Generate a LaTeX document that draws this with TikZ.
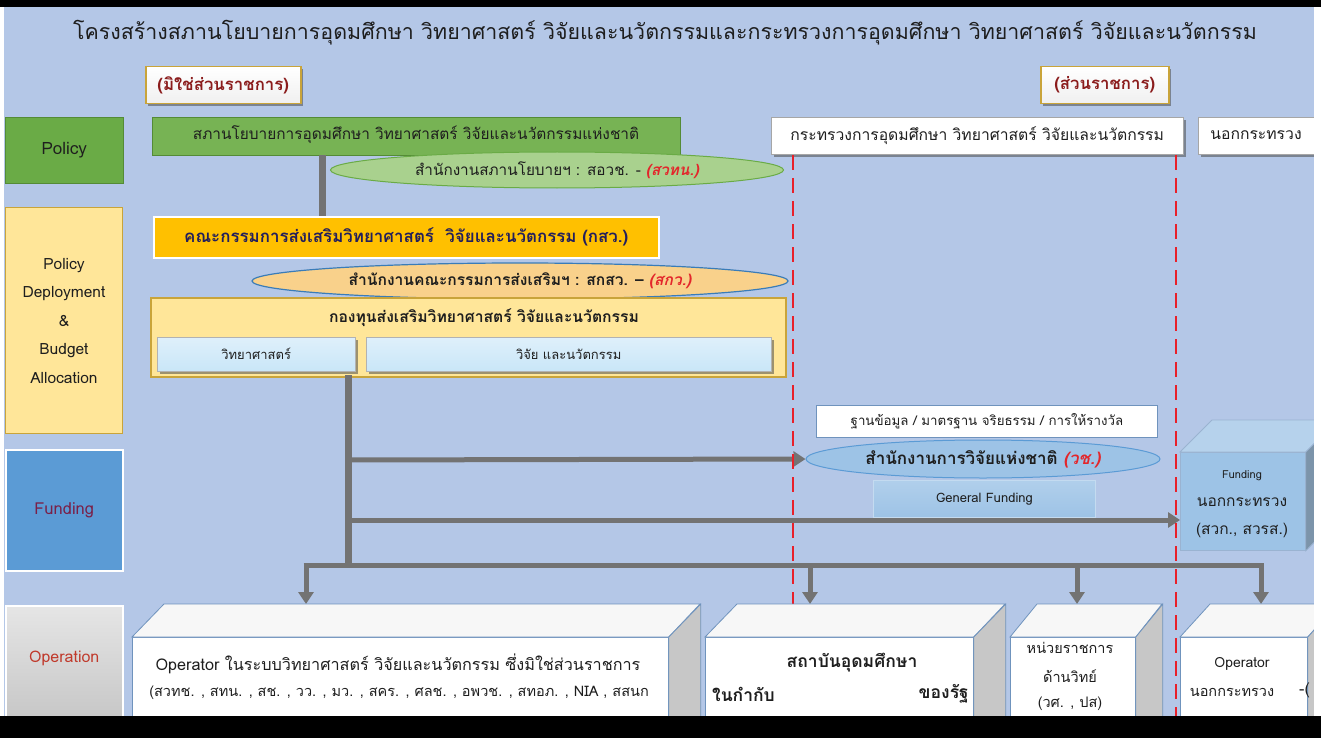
\documentclass[tikz,border=0pt]{standalone}
\usepackage{fontspec}
\setmainfont{Loma}[Script=Thai]
\usetikzlibrary{shapes.geometric,arrows.meta,shadows}
\definecolor{bg}{HTML}{B4C7E7}
\definecolor{txt}{HTML}{1E1E1E}
\definecolor{navy}{HTML}{231F5C}
\definecolor{redit}{HTML}{E3262B}
\definecolor{dred}{HTML}{8B1C1C}
\definecolor{pgreen}{HTML}{6AAB46}
\definecolor{pgreenb}{HTML}{548B36}
\definecolor{egreen}{HTML}{A9D18E}
\definecolor{orng}{HTML}{FFC000}
\definecolor{eorng}{HTML}{F9D18B}
\definecolor{eorngb}{HTML}{3A7CB8}
\definecolor{yel}{HTML}{FFE699}
\definecolor{yelb}{HTML}{C9A43A}
\definecolor{lblue}{HTML}{C9E6F8}
\definecolor{fblue}{HTML}{5B9BD5}
\definecolor{fundtxt}{HTML}{7A2048}
\definecolor{optxt}{HTML}{C0392B}
\definecolor{agrey}{HTML}{737373}
\definecolor{ewch}{HTML}{9DC3E6}
\definecolor{ewchb}{HTML}{5B9BD5}
\definecolor{edgeb}{HTML}{6F93BD}
\definecolor{dashred}{HTML}{E8202A}
\newcommand{\fsz}[2]{\fontsize{#1}{#2}\selectfont}
\begin{document}
\begin{tikzpicture}[x=1pt,y=-1pt,
  box/.style={draw, inner sep=0pt, anchor=north west, align=center, text=txt},
  lbl/.style={inner sep=0pt, align=center, text=txt},
  shd/.style={drop shadow={shadow xshift=2.5pt, shadow yshift=-2.5pt, opacity=0.55, fill=black!70}},
  trunk/.style={draw=agrey, line width=7pt},
  bus/.style={draw=agrey, line width=5pt},
  arr/.style={draw=agrey, line width=5pt, -{Triangle[length=12pt,width=15pt]}},
  rdash/.style={draw=dashred, line width=2.6pt, dash pattern=on 15pt off 8pt},
  face/.style={draw=edgeb, line width=0.8pt}
]
\useasboundingbox (0,0) rectangle (1321,738);
\fill[bg] (0,0) rectangle (1321,738);

% title
\node[lbl, font=\fsz{21.4}{25}] (title) at (665,33) {โครงสร้างสภานโยบายการอุดมศึกษา วิทยาศาสตร์ วิจัยและนวัตกรรมและกระทรวงการอุดมศึกษา วิทยาศาสตร์ วิจัยและนวัตกรรม};

% status tags
\node[box, shd, draw=yelb, line width=1.5pt, top color=white, bottom color=black!6, minimum width=155pt, minimum height=37pt, font=\fsz{16.8}{19}\bfseries, text=dred] (tagA) at (145,66) {(มิใช่ส่วนราชการ)};
\node[box, shd, draw=yelb, line width=1.5pt, top color=white, bottom color=black!6, minimum width=128pt, minimum height=37pt, font=\fsz{16.8}{19}\bfseries, text=dred] (tagB) at (1040,66) {(ส่วนราชการ)};

% left column
\node[box, fill=pgreen, draw=pgreenb, minimum width=118pt, minimum height=66pt, font=\fsz{17}{20}] (lpol) at (5,117) {Policy};
\node[box, fill=yel, draw=yelb, line width=1pt, minimum width=117pt, minimum height=226pt, font=\fsz{15.5}{28.5}] (lpd) at (5,207) {Policy\\Deployment\\\&\\Budget\\Allocation};
\node[box, fill=fblue, draw=white, line width=1.5pt, minimum width=117pt, minimum height=121pt, font=\fsz{16.5}{19}, text=fundtxt] (lfund) at (5,449) {Funding};
\node[box, top color=black!10, bottom color=black!22, draw=white, line width=1.5pt, minimum width=117pt, minimum height=113pt] (lop) at (5,605) {};
\node[lbl, font=\fsz{16}{19}, text=optxt] (loptxt) at (lop.center |- 0,658) {Operation};

% red dashed dividers
\coordinate (d1a) at (793,155); \coordinate (d1b) at (793,716);
\coordinate (d2a) at (1176,155); \coordinate (d2b) at (1176,716);

% policy level
\node[box, fill=egreen!20!pgreen, draw=pgreenb, minimum width=528pt, minimum height=38pt] (spn) at (152,117) {};
\node[lbl, font=\fsz{15.4}{18}] (spntxt) at (416,135) {สภานโยบายการอุดมศึกษา วิทยาศาสตร์ วิจัยและนวัตกรรมแห่งชาติ};
\node[box, shd, fill=white, draw=black!35, minimum width=412pt, minimum height=37pt, font=\fsz{15.7}{18}] (mhesi) at (771,117) {กระทรวงการอุดมศึกษา วิทยาศาสตร์ วิจัยและนวัตกรรม};
\node[box, shd, fill=white, draw=black!35, minimum width=130pt, minimum height=37pt] (outm) at (1198,117) {};
\node[lbl, font=\fsz{15.7}{18}] (outmtxt) at (1256,135) {นอกกระทรวง};

% connector policy -> board
\coordinate (c1) at (322,0);
\node[box, fill=orng, draw=white, line width=1.5pt, minimum width=505pt, minimum height=41pt, font=\fsz{16.9}{20}\bfseries, text=navy] (ksw) at (153,216) {คณะกรรมการส่งเสริมวิทยาศาสตร์\ \ วิจัยและนวัตกรรม (กสว.)};
\draw[trunk] (spn.south -| c1) -- (ksw.north -| c1);

\node[ellipse, draw=pgreen, line width=1pt, fill=egreen, inner sep=0pt, minimum width=453pt, minimum height=36pt, text=txt, font=\fsz{15.3}{18}] (e1) at (557,170) {สำนักงานสภานโยบายฯ : สอวช. - {\color{redit}\bfseries\itshape (สวทน.)}};

\node[ellipse, draw=eorngb, line width=1.2pt, fill=eorng, inner sep=0pt, minimum width=536pt, minimum height=36pt, text=txt, font=\fsz{15.6}{18}\bfseries] (e2) at (520,281) {สำนักงานคณะกรรมการส่งเสริมฯ : สกสว. – {\color{redit}\itshape (สกว.)}};

% fund
\node[box, fill=yel, draw=yelb, line width=1.5pt, minimum width=635pt, minimum height=79pt] (fund) at (150,297) {};
\node[lbl, font=\fsz{15.7}{18}\bfseries] (fundtxt) at (484,318) {กองทุนส่งเสริมวิทยาศาสตร์ วิจัยและนวัตกรรม};
\node[box, shd, top color=lblue!60!white, bottom color=lblue, draw=black!30, minimum width=198pt, minimum height=34pt, font=\fsz{13}{15}] (sci) at (157,337) {วิทยาศาสตร์};
\node[box, shd, top color=lblue!60!white, bottom color=lblue, draw=black!30, minimum width=405pt, minimum height=34pt, font=\fsz{13}{15}] (res) at (366,337) {วิจัย และนวัตกรรม};

% NRCT side
\node[box, fill=white, draw=edgeb, line width=0.8pt, minimum width=341pt, minimum height=32pt, font=\fsz{13.3}{15}] (std) at (816,405) {ฐานข้อมูล / มาตรฐาน จริยธรรม / การให้รางวัล};
\node[box, top color=ewch!80!white, bottom color=ewch, draw=ewch!60!white, line width=1pt, minimum width=222pt, minimum height=37pt, font=\fsz{13}{15}] (gf) at (873,480) {General Funding};
\node[ellipse, draw=ewchb, line width=1pt, fill=ewch, inner sep=0pt, minimum width=354pt, minimum height=38pt, text=txt, font=\fsz{17}{20}\bfseries] (wch) at (983,459) {สำนักงานการวิจัยแห่งชาติ {\color{redit}\itshape (วช.)}};

% trunk, arrows, bus
\coordinate (tt) at (348,375);
\coordinate (t1) at (348,460);
\coordinate (t2) at (348,520);
\coordinate (tb) at (348,565);
\coordinate (b1) at (306,565);
\coordinate (b2) at (810,565);
\coordinate (b3) at (1077,565);
\coordinate (b4) at (1261,565);
\draw[trunk] (tt) -- ([yshift=-2.5pt]tb);
\draw[arr] (t1) -- (wch.west);
\draw[bus] ([xshift=-2.5pt]b1) -- ([xshift=2.5pt]b4);

% Funding outside ministry (3D)
\node[box, fill=ewch, draw=edgeb!70!white, line width=0.8pt, minimum width=125pt, minimum height=98pt] (fout) at (1180,452) {};
\fill[ewch!75!white, draw=edgeb!70!white, line width=0.8pt] (fout.north west) -- ++(32,-32) -- ++(125,0) -- (fout.north east) -- cycle;
\fill[ewch!70!black!90, draw=edgeb!70!white, line width=0.8pt] (fout.north east) -- ++(32,-32) -- ++(0,98) -- (fout.south east) -- cycle;
\node[lbl, font=\fsz{11}{13}] (fout1) at (1242,476) {Funding};
\node[lbl, font=\fsz{15.5}{18}] (fout2) at (1242,502) {นอกกระทรวง};
\node[lbl, font=\fsz{15.5}{18}] (fout3) at (1242,530) {(สวก., สวรส.)};
\draw[arr] (t2) -- (t2 -| fout.west);

% down arrows
\coordinate (a1) at (306,604);
\coordinate (a2) at (810,604);
\coordinate (a3) at (1077,604);
\coordinate (a4) at (1261,604);
\draw[arr] (b1) -- (a1);
\draw[arr] (b2) -- (a2);
\draw[arr] (b3) -- (a3);
\draw[arr] (b4) -- (a4);

\draw[rdash] (d1a) -- (d1b);
\draw[rdash] (d2a) -- (d2b);

% operation boxes
\node[box, fill=white, face, minimum width=536pt, minimum height=82pt] (op1) at (132,637) {};
\fill[black!3, face] (op1.north west) -- ++(32,-33) -- ++(536,0) -- (op1.north east) -- cycle;
\fill[black!22, face] (op1.north east) -- ++(32,-33) -- ++(0,115) -- (op1.south east) -- cycle;
\node[lbl, font=\fsz{16.2}{19}] (op1a) at (398,664) {Operator ในระบบวิทยาศาสตร์ วิจัยและนวัตกรรม ซึ่งมิใช่ส่วนราชการ};
\node[lbl, font=\fsz{14.5}{17}] (op1b) at (399,693) {(สวทช. , สทน. , สช. , วว. , มว. , สคร. , ศลช. , อพวช. , สทอภ. , NIA , สสนก};

\node[box, fill=white, face, minimum width=268pt, minimum height=82pt] (op2) at (705,637) {};
\fill[black!3, face] (op2.north west) -- ++(32,-33) -- ++(268,0) -- (op2.north east) -- cycle;
\fill[black!22, face] (op2.north east) -- ++(32,-33) -- ++(0,115) -- (op2.south east) -- cycle;
\node[lbl, font=\fsz{17.5}{20}\bfseries] (op2a) at (852,663) {สถาบันอุดมศึกษา};
\node[lbl, anchor=west, font=\fsz{17.5}{20}\bfseries] (op2b) at (712,694) {ในกำกับ};
\node[lbl, anchor=east, font=\fsz{17.5}{20}\bfseries] (op2c) at (969,694) {ของรัฐ};

\node[box, fill=white, face, minimum width=125pt, minimum height=82pt] (op3) at (1010,637) {};
\fill[black!3, face] (op3.north west) -- ++(27,-33) -- ++(125,0) -- (op3.north east) -- cycle;
\fill[black!22, face] (op3.north east) -- ++(27,-33) -- ++(0,115) -- (op3.south east) -- cycle;
\node[lbl, font=\fsz{14.5}{17}] (op3a) at (1070,648) {หน่วยราชการ};
\node[lbl, font=\fsz{14.5}{17}] (op3b) at (1070,676) {ด้านวิทย์};
\node[lbl, font=\fsz{14.5}{17}] (op3c) at (1070,704) {(วศ. , ปส)};

\node[box, fill=white, face, minimum width=127pt, minimum height=82pt] (op4) at (1180,637) {};
\fill[black!3, face] (op4.north west) -- ++(30,-33) -- ++(127,0) -- (op4.north east) -- cycle;
\fill[black!22, face] (op4.north east) -- ++(30,-33) -- ++(0,115) -- (op4.south east) -- cycle;
\node[lbl, font=\fsz{14}{17}] (op4a) at (1242,664) {Operator};
\node[lbl, font=\fsz{14.5}{17}] (op4b) at (1232,692) {นอกกระทรวง};
\node[lbl, anchor=west, font=\fsz{16}{19}] (op4c) at (1299,690) {-(};

% frame
\fill[white] (1314,7) rectangle (1321,716);
\fill[white] (0,7) rectangle (4,716);
\fill[black] (0,0) rectangle (1321,7);
\fill[black] (0,716) rectangle (1321,738);
\end{tikzpicture}
\end{document}
